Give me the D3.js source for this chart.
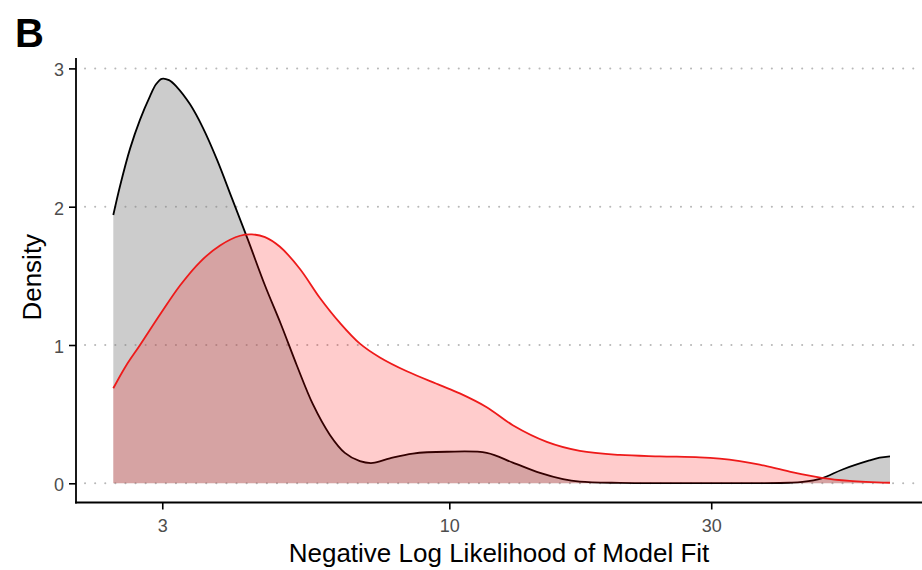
<!DOCTYPE html>
<html>
<head>
<meta charset="utf-8">
<script src="https://cdn.jsdelivr.net/npm/d3@7"></script>
<style>
  html, body { margin: 0; padding: 0; background: #fff; }
  svg { display: block; font-family: "Liberation Sans", Arial, Helvetica, sans-serif; }
</style>
</head>
<body>
<svg id="chart" width="922" height="570"></svg>
<script>
// Density of negative log likelihood (log-scaled x), two groups.
const nllGrey = [2.443, 2.513, 2.621, 2.733, 2.850, 2.922, 2.993, 3.086, 3.190, 3.371,
                 3.558, 3.774, 4.019, 4.298, 4.616, 4.935, 5.278, 5.645, 6.061, 6.453,
                 6.873, 7.257, 7.793, 8.582, 9.897, 11.70, 13.05, 14.63, 16.11, 17.29,
                 20.44, 28.58, 36.76, 41.68, 44.0, 47.67, 52.04, 58.27, 60.8, 63.5];
const densGrey = [1.94, 2.15, 2.42, 2.63, 2.80, 2.885, 2.925, 2.915, 2.865, 2.74,
                  2.57, 2.34, 2.06, 1.76, 1.43, 1.15, 0.85, 0.57, 0.35, 0.22,
                  0.16, 0.147, 0.18, 0.215, 0.228, 0.22, 0.15, 0.075, 0.03, 0.012,
                  0.003, 0.001, 0.001, 0.004, 0.01, 0.036, 0.10, 0.165, 0.185, 0.195];

const nllRed = [2.443, 2.577, 2.733, 2.972, 3.232, 3.514, 3.823, 4.157, 4.370, 4.616,
                4.915, 5.345, 5.812, 6.320, 6.873, 7.474, 8.368, 9.612, 10.45, 11.70,
                13.05, 15.05, 17.29, 20.44, 24.17, 28.58, 31.08, 33.81, 36.76, 41.68,
                47.67, 53.61, 63.5];
const densRed = [0.687, 0.85, 1.00, 1.22, 1.43, 1.60, 1.72, 1.79, 1.80, 1.78,
                 1.71, 1.55, 1.34, 1.16, 1.01, 0.91, 0.81, 0.71, 0.65, 0.55,
                 0.42, 0.30, 0.235, 0.205, 0.195, 0.188, 0.178, 0.16, 0.135, 0.085,
                 0.04, 0.018, 0.004];

const xTicks = [3, 10, 30];
const yTicks = [0, 1, 2, 3];

const svg = d3.select("#chart");

// Panel geometry
const panel = { left: 76, right: 930, top: 58, bottom: 502.5 };

const x = d3.scaleLog()
  .domain(d3.extent(nllGrey.concat(nllRed)))
  .range([113.3, 890]);
const y = d3.scaleLinear()
  .domain([0, 3])
  .range([483.3, 68.4]);

// Dotted horizontal grid
svg.append("g")
  .selectAll("line")
  .data(yTicks)
  .join("line")
  .attr("x1", panel.left + 9)
  .attr("x2", panel.right)
  .attr("y1", d => y(d))
  .attr("y2", d => y(d))
  .attr("stroke", "#b8b8b8")
  .attr("stroke-width", 2)
  .attr("stroke-linecap", "round")
  .attr("stroke-dasharray", "0.1 10");

const greyData = nllGrey.map((v, i) => ({ x: v, d: densGrey[i] }));
const redData = nllRed.map((v, i) => ({ x: v, d: densRed[i] }));

const smooth = d3.curveCatmullRom.alpha(0.5);
const area = d3.area()
  .x(p => x(p.x))
  .y0(y(0))
  .y1(p => y(p.d))
  .curve(smooth);
const line = d3.line()
  .x(p => x(p.x))
  .y(p => y(p.d))
  .curve(smooth);

// Grey group: fill, then outline
svg.append("path").datum(greyData)
  .attr("d", area)
  .attr("fill", "rgb(127,127,127)")
  .attr("fill-opacity", 0.4);
svg.append("path").datum(greyData)
  .attr("d", line)
  .attr("fill", "none")
  .attr("stroke", "#000")
  .attr("stroke-width", 1.8);

// Red group drawn on top
svg.append("path").datum(redData)
  .attr("d", area)
  .attr("fill", "rgb(255,0,0)")
  .attr("fill-opacity", 0.2);
svg.append("path").datum(redData)
  .attr("d", line)
  .attr("fill", "none")
  .attr("stroke", "#ee1a1a")
  .attr("stroke-width", 1.8);

// Axes
const yAxis = svg.append("g")
  .attr("transform", `translate(${panel.left},0)`)
  .call(d3.axisLeft(y).tickValues(yTicks).tickSize(7).tickPadding(5).tickFormat(d3.format("d")));
yAxis.select(".domain").remove();
yAxis.selectAll(".tick line").attr("stroke", "#000").attr("stroke-width", 1.6);
yAxis.selectAll(".tick text")
  .attr("fill", "#4d4d4d")
  .attr("font-size", 18)
  .attr("dy", "0.42em")
  .style("font-family", "'Liberation Sans', Arial, sans-serif");

const xAxis = svg.append("g")
  .attr("transform", `translate(0,${panel.bottom})`)
  .call(d3.axisBottom(x).tickValues(xTicks).tickSize(7).tickPadding(10).tickFormat(d3.format("d")));
xAxis.select(".domain").remove();
xAxis.selectAll(".tick line").attr("stroke", "#000").attr("stroke-width", 1.6);
xAxis.selectAll(".tick text")
  .attr("fill", "#4d4d4d")
  .attr("font-size", 18)
  .style("font-family", "'Liberation Sans', Arial, sans-serif");

// Axis lines
svg.append("line")
  .attr("x1", panel.left).attr("x2", panel.left)
  .attr("y1", panel.top).attr("y2", panel.bottom + 0.9)
  .attr("stroke", "#000").attr("stroke-width", 1.8);
svg.append("line")
  .attr("x1", panel.left - 0.9).attr("x2", panel.right)
  .attr("y1", panel.bottom).attr("y2", panel.bottom)
  .attr("stroke", "#000").attr("stroke-width", 1.8);

// Axis titles
svg.append("text")
  .attr("x", 499)
  .attr("y", 562)
  .attr("text-anchor", "middle")
  .attr("font-size", 26)
  .attr("fill", "#000")
  .text("Negative Log Likelihood of Model Fit");

svg.append("text")
  .attr("transform", `translate(41,${(panel.top + panel.bottom) / 2 - 3}) rotate(-90)`)
  .attr("text-anchor", "middle")
  .attr("font-size", 26)
  .attr("fill", "#000")
  .text("Density");

// Panel tag
svg.append("text")
  .attr("x", 15)
  .attr("y", 47)
  .attr("font-size", 40)
  .attr("font-weight", "bold")
  .attr("fill", "#000")
  .text("B");
</script>
</body>
</html>
